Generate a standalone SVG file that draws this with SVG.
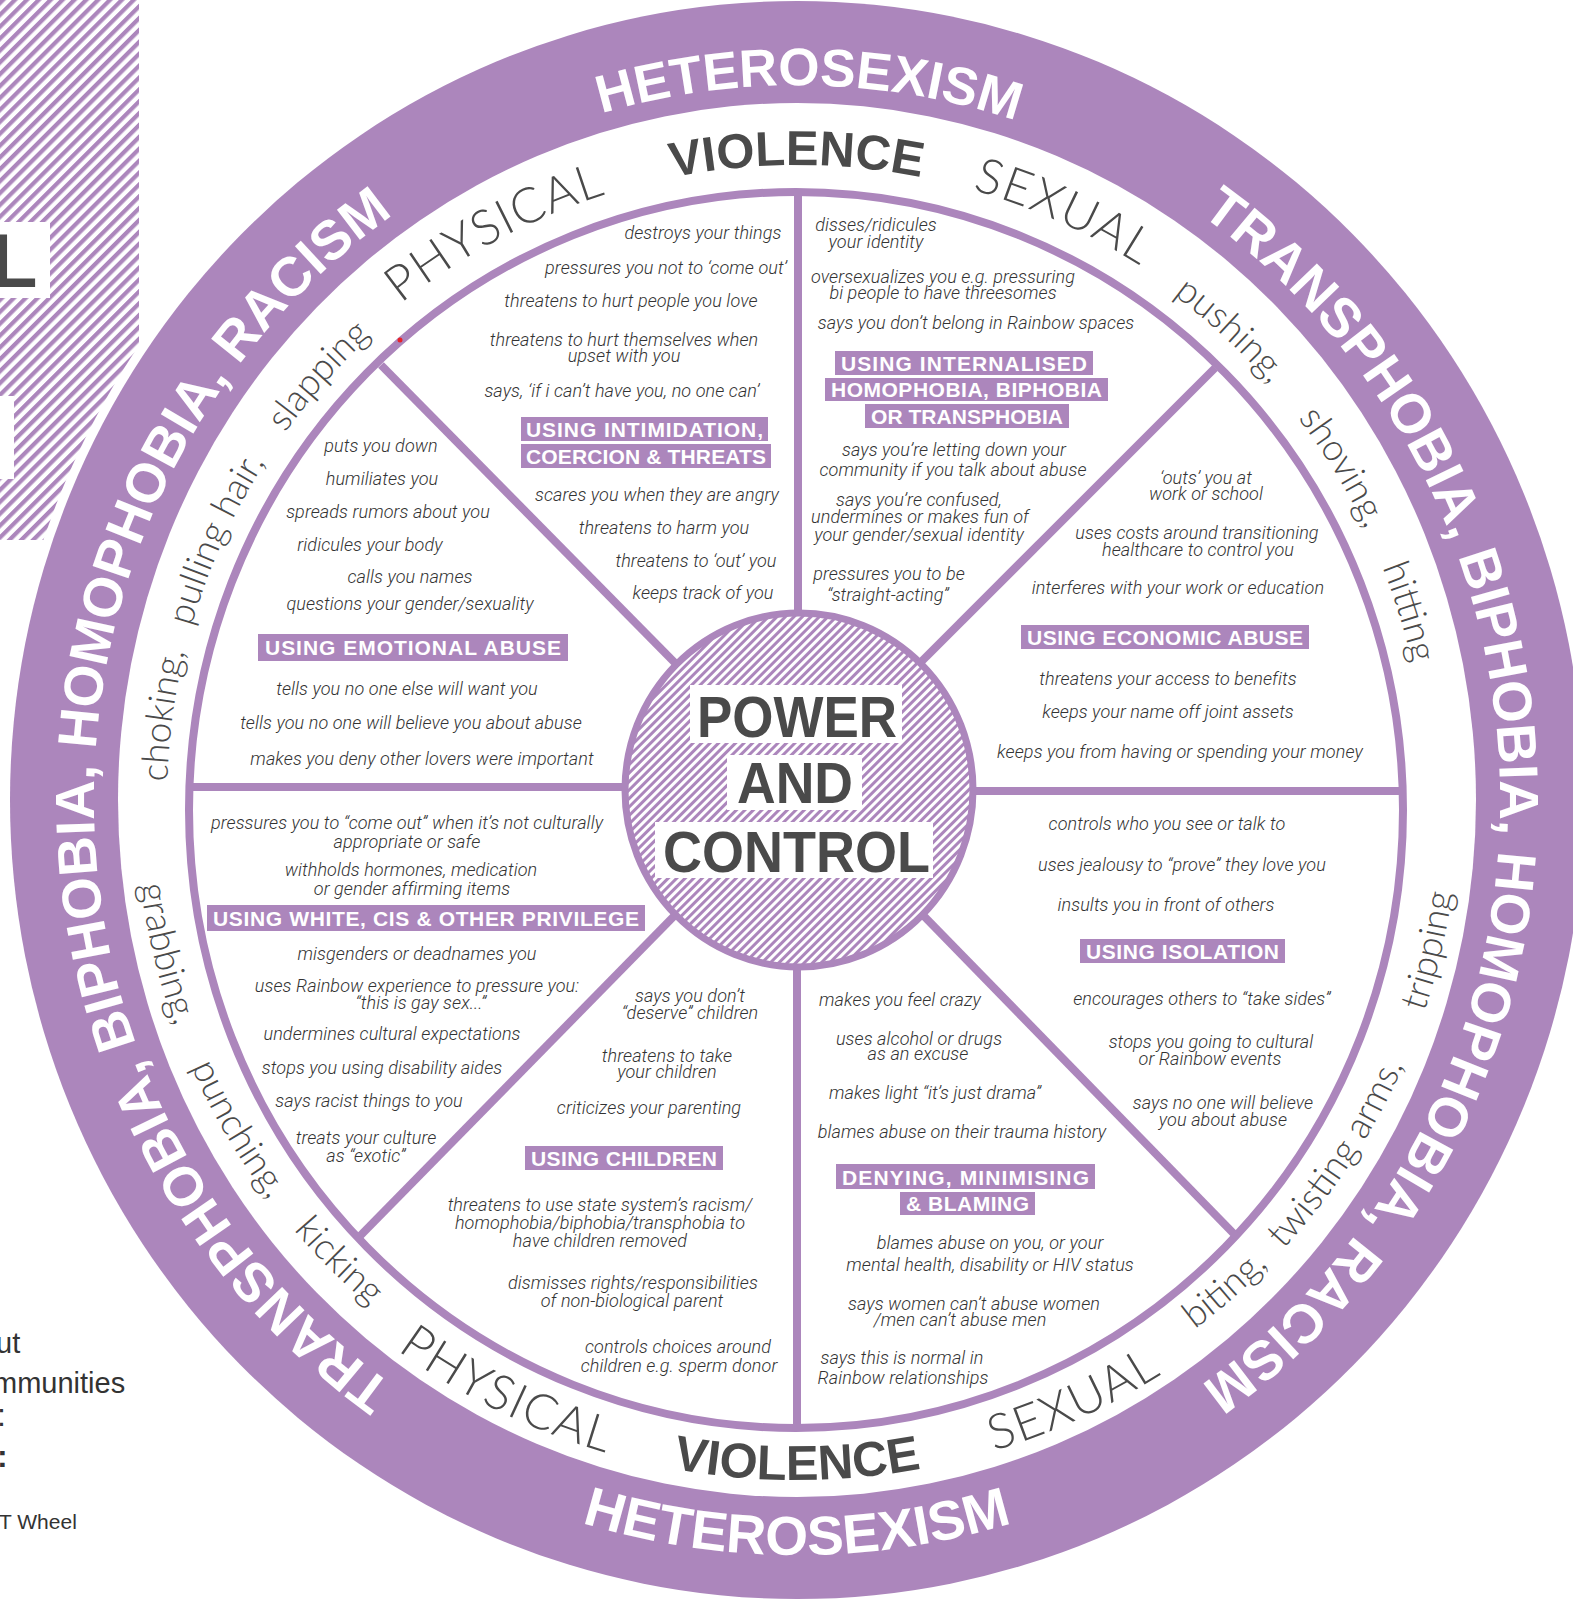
<svg xmlns="http://www.w3.org/2000/svg" width="1573" height="1604" viewBox="0 0 1573 1604">
<defs>
<style>
.t{font-family:Roboto,'Liberation Sans',sans-serif;font-style:italic;font-weight:300;font-size:18px;letter-spacing:0.1px;fill:#333;text-anchor:middle}
.h{font-family:'Liberation Sans',Arial,sans-serif;font-weight:700;font-size:21px;fill:#fff;text-anchor:middle}
.hb{fill:#ac86bc}
.ring{font-family:'Liberation Sans',Arial,sans-serif;font-weight:700;font-size:55px;fill:#fff;text-anchor:middle}
.vb{font-family:'Liberation Sans',Arial,sans-serif;font-weight:700;font-size:49px;fill:#4a4a4a;text-anchor:middle}
.vl{font-family:Lato,'Liberation Sans',sans-serif;font-weight:300;font-size:49px;letter-spacing:1.5px;fill:#4a4a4a;text-anchor:middle}
.act{font-family:Lato,'Liberation Sans',sans-serif;font-weight:300;font-size:37px;fill:#4a4a4a;text-anchor:middle}
.pc{font-family:'Liberation Sans',Arial,sans-serif;font-weight:700;font-size:57px;fill:#4a4a4a;text-anchor:middle}
.sp{stroke:#ac86bc;stroke-width:8;fill:none}
.side{font-family:'Liberation Sans',Arial,sans-serif;font-size:29px;fill:#333}
</style>
<pattern id="hatchHub" width="6" height="6" patternUnits="userSpaceOnUse" patternTransform="rotate(45)"><rect width="6" height="6" fill="#fff"/><rect width="3" height="6" fill="#ac86bc"/></pattern>
<pattern id="hatchSide" width="8.4" height="8.4" patternUnits="userSpaceOnUse" patternTransform="rotate(45)"><rect width="8.4" height="8.4" fill="#fff"/><rect width="4.2" height="8.4" fill="#ac86bc"/></pattern>
<path id="pTop" d="M94,800 A703,715 0 0 1 1500,800"/>
<path id="pRight" d="M797,85 A703,715 0 0 1 797,1515"/>
<path id="pLeft" d="M797,1515 A703,715 0 0 1 797,85"/>
<path id="pBot" d="M52,800 A745,755 0 0 0 1542,800"/>
<path id="cwBig" d="M162,800 A635,635 0 1 1 1432,800 A635,635 0 1 1 162,800"/>
<path id="cwSmall" d="M167,800 A630,630 0 1 1 1427,800 A630,630 0 1 1 167,800"/>
<path id="ccwBig" d="M117,800 A680,680 0 1 0 1477,800 A680,680 0 1 0 117,800"/>
<path id="ccwSmall" d="M135,800 A662,662 0 1 0 1459,800 A662,662 0 1 0 135,800"/>
</defs>
<rect width="1573" height="1604" fill="#fff"/>

<g id="side-panel">
<rect x="0" y="0" width="139" height="540" fill="url(#hatchSide)"/>
<rect x="0" y="222" width="50" height="76" fill="#fff"/>
<text x="-9" y="287" style="font-family:'Liberation Sans',Arial,sans-serif;font-weight:700;font-size:76px;fill:#4a4a4a">L</text>
<rect x="0" y="396" width="14" height="83" fill="#fff"/>
<text class="side" x="-4" y="1353">ut</text>
<text class="side" x="-7" y="1393">mmunities</text>
<text class="side" x="-3" y="1426" style="font-size:32px">:</text>
<text class="side" x="-3" y="1467" style="font-size:32px;font-weight:700">:</text>
<text class="side" x="-1" y="1529" style="font-size:21px">T Wheel</text>
</g>

<g id="outer-ring">
<ellipse cx="797" cy="800" rx="796" ry="808" fill="#fff"/>
<ellipse cx="797" cy="800" rx="787" ry="799" fill="#ac86bc"/>
<ellipse cx="797" cy="800" rx="679" ry="697" fill="#fff"/>
<text class="ring" style="font-size:53px"><textPath href="#pTop" startOffset="50.55%">HETEROSEXISM</textPath></text>
<text class="ring"><textPath href="#pRight" startOffset="50%">TRANSPHOBIA, BIPHOBIA, HOMOPHOBIA, RACISM</textPath></text>
<text class="ring"><textPath href="#pLeft" startOffset="50%">TRANSPHOBIA, BIPHOBIA, HOMOPHOBIA, RACISM</textPath></text>
<text class="ring"><textPath href="#pBot" startOffset="50%">HETEROSEXISM</textPath></text>
</g>

<g id="band">
<text class="vl"><textPath href="#cwBig" startOffset="687">PHYSICAL</textPath></text>
<text class="vb"><textPath href="#cwBig" startOffset="997">VIOLENCE</textPath></text>
<text class="vl"><textPath href="#cwBig" startOffset="1268">SEXUAL</textPath></text>
<text class="vl"><textPath href="#ccwBig" startOffset="758">PHYSICAL</textPath></text>
<text class="vb"><textPath href="#ccwBig" startOffset="1068">VIOLENCE</textPath></text>
<text class="vl"><textPath href="#ccwBig" startOffset="1361">SEXUAL</textPath></text>
<text class="act"><textPath href="#cwSmall" startOffset="84">choking,</textPath></text>
<text class="act"><textPath href="#cwSmall" startOffset="266">pulling hair,</textPath></text>
<text class="act"><textPath href="#cwSmall" startOffset="457">slapping</textPath></text>
<text class="act"><textPath href="#cwSmall" startOffset="1459">pushing,</textPath></text>
<text class="act"><textPath href="#cwSmall" startOffset="1634">shoving,</textPath></text>
<text class="act"><textPath href="#cwSmall" startOffset="1791">hitting</textPath></text>
<text class="act"><textPath href="#ccwSmall" startOffset="158">grabbing,</textPath></text>
<text class="act"><textPath href="#ccwSmall" startOffset="352">punching,</textPath></text>
<text class="act"><textPath href="#ccwSmall" startOffset="522">kicking</textPath></text>
<text class="act"><textPath href="#ccwSmall" startOffset="1515">biting,</textPath></text>
<text class="act"><textPath href="#ccwSmall" startOffset="1696">twisting arms,</textPath></text>
<text class="act"><textPath href="#ccwSmall" startOffset="1925">tripping</textPath></text>
</g>

<g id="wheel">
<ellipse cx="796" cy="810" rx="607" ry="618" fill="#fff" stroke="#ac86bc" stroke-width="8"/>
<circle cx="400" cy="340" r="2.5" fill="#e8232a"/>
</g>

<g id="connectors">
<line class="sp" x1="798" y1="194" x2="798" y2="620"/>
<line class="sp" x1="797" y1="960" x2="797" y2="1428"/>
<line class="sp" x1="189" y1="787" x2="630" y2="787"/>
<line class="sp" x1="968" y1="791" x2="1403" y2="791"/>
<line class="sp" x1="381" y1="365" x2="680" y2="668"/>
<line class="sp" x1="1215" y1="368" x2="918" y2="665"/>
<line class="sp" x1="360" y1="1236" x2="680" y2="910"/>
<line class="sp" x1="1236" y1="1236" x2="918" y2="910"/>
</g>

<g id="hub">
<ellipse cx="799" cy="790" rx="174" ry="177" fill="url(#hatchHub)" stroke="#ac86bc" stroke-width="7"/>
<rect x="690" y="685" width="212" height="58" fill="#fff"/>
<rect x="727" y="755" width="135" height="55" fill="#fff"/>
<rect x="655" y="822" width="278" height="56" fill="#fff"/>
<text class="pc" x="797" y="737" textLength="200" lengthAdjust="spacingAndGlyphs">POWER</text>
<text class="pc" x="795" y="803" textLength="116" lengthAdjust="spacingAndGlyphs">AND</text>
<text class="pc" x="796.5" y="872" textLength="267" lengthAdjust="spacingAndGlyphs">CONTROL</text>
</g>

<g id="seg-intimidation">
<text class="t" x="703" y="239">destroys your things</text>
<text class="t" x="666" y="274">pressures you not to ‘come out’</text>
<text class="t" x="631" y="307">threatens to hurt people you love</text>
<text class="t" x="624" y="346">threatens to hurt themselves when</text>
<text class="t" x="624" y="362">upset with you</text>
<text class="t" x="622" y="397">says, ‘if i can’t have you, no one can’</text>
<rect class="hb" x="521" y="417" width="247" height="24"/>
<rect class="hb" x="521" y="444" width="250" height="24"/>
<text class="h" x="644.5" y="437" textLength="237" lengthAdjust="spacing">USING INTIMIDATION,</text>
<text class="h" x="646" y="464" textLength="240" lengthAdjust="spacing">COERCION &amp; THREATS</text>
<text class="t" x="657" y="501">scares you when they are angry</text>
<text class="t" x="664" y="534">threatens to harm you</text>
<text class="t" x="696" y="567">threatens to ‘out’ you</text>
<text class="t" x="703" y="599">keeps track of you</text>
</g>

<g id="seg-internalised">
<text class="t" x="876" y="231">disses/ridicules</text>
<text class="t" x="876" y="248">your identity</text>
<text class="t" x="943" y="283">oversexualizes you e.g. pressuring</text>
<text class="t" x="943" y="299">bi people to have threesomes</text>
<text class="t" x="976" y="329">says you don’t belong in Rainbow spaces</text>
<rect class="hb" x="835" y="351" width="258" height="24"/>
<rect class="hb" x="825" y="378" width="283" height="23"/>
<rect class="hb" x="865" y="404" width="204" height="24"/>
<text class="h" x="964" y="371" textLength="246" lengthAdjust="spacing">USING INTERNALISED</text>
<text class="h" x="966.5" y="397" textLength="271" lengthAdjust="spacing">HOMOPHOBIA, BIPHOBIA</text>
<text class="h" x="967" y="424" textLength="192" lengthAdjust="spacing">OR TRANSPHOBIA</text>
<text class="t" x="954" y="456">says you’re letting down your</text>
<text class="t" x="953" y="476">community if you talk about abuse</text>
<text class="t" x="919" y="506">says you’re confused,</text>
<text class="t" x="920" y="523">undermines or makes fun of</text>
<text class="t" x="919" y="541">your gender/sexual identity</text>
<text class="t" x="889" y="580">pressures you to be</text>
<text class="t" x="888" y="601">“straight-acting”</text>
</g>

<g id="seg-economic">
<text class="t" x="1206" y="484">‘outs’ you at</text>
<text class="t" x="1206" y="500">work or school</text>
<text class="t" x="1197" y="539">uses costs around transitioning</text>
<text class="t" x="1198" y="556">healthcare to control you</text>
<text class="t" x="1178" y="594">interferes with your work or education</text>
<rect class="hb" x="1021" y="625" width="288" height="24"/>
<text class="h" x="1165" y="645" textLength="276" lengthAdjust="spacing">USING ECONOMIC ABUSE</text>
<text class="t" x="1168" y="685">threatens your access to benefits</text>
<text class="t" x="1168" y="718">keeps your name off joint assets</text>
<text class="t" x="1180" y="758">keeps you from having or spending your money</text>
</g>

<g id="seg-isolation">
<text class="t" x="1167" y="830">controls who you see or talk to</text>
<text class="t" x="1182" y="871">uses jealousy to “prove” they love you</text>
<text class="t" x="1166" y="911">insults you in front of others</text>
<rect class="hb" x="1080" y="939" width="205" height="24"/>
<text class="h" x="1182.5" y="959" textLength="193" lengthAdjust="spacing">USING ISOLATION</text>
<text class="t" x="1202" y="1005">encourages others to “take sides”</text>
<text class="t" x="1211" y="1048">stops you going to cultural</text>
<text class="t" x="1210" y="1065">or Rainbow events</text>
<text class="t" x="1223" y="1109">says no one will believe</text>
<text class="t" x="1223" y="1126">you about abuse</text>
</g>

<g id="seg-denying">
<text class="t" x="900" y="1006">makes you feel crazy</text>
<text class="t" x="919" y="1045">uses alcohol or drugs</text>
<text class="t" x="918" y="1060">as an excuse</text>
<text class="t" x="935" y="1099">makes light “it’s just drama”</text>
<text class="t" x="962" y="1138">blames abuse on their trauma history</text>
<rect class="hb" x="836" y="1164" width="259" height="25"/>
<rect class="hb" x="900" y="1192" width="135" height="23"/>
<text class="h" x="965.5" y="1185" textLength="247" lengthAdjust="spacing">DENYING, MINIMISING</text>
<text class="h" x="967.5" y="1211" textLength="123" lengthAdjust="spacing">&amp; BLAMING</text>
<text class="t" x="990" y="1249">blames abuse on you, or your</text>
<text class="t" x="990" y="1271">mental health, disability or HIV status</text>
<text class="t" x="974" y="1310">says women can’t abuse women</text>
<text class="t" x="960" y="1326">/men can’t abuse men</text>
<text class="t" x="902" y="1364">says this is normal in</text>
<text class="t" x="903" y="1384">Rainbow relationships</text>
</g>

<g id="seg-children">
<text class="t" x="690" y="1002">says you don’t</text>
<text class="t" x="690" y="1019">“deserve” children</text>
<text class="t" x="667" y="1062">threatens to take</text>
<text class="t" x="667" y="1078">your children</text>
<text class="t" x="649" y="1114">criticizes your parenting</text>
<rect class="hb" x="525" y="1146" width="198" height="24"/>
<text class="h" x="624" y="1166" textLength="186" lengthAdjust="spacing">USING CHILDREN</text>
<text class="t" x="600" y="1211">threatens to use state system’s racism/</text>
<text class="t" x="600" y="1229">homophobia/biphobia/transphobia to</text>
<text class="t" x="600" y="1247">have children removed</text>
<text class="t" x="633" y="1289">dismisses rights/responsibilities</text>
<text class="t" x="632" y="1307">of non-biological parent</text>
<text class="t" x="678" y="1353">controls choices around</text>
<text class="t" x="679" y="1372">children e.g. sperm donor</text>
</g>

<g id="seg-privilege">
<text class="t" x="407" y="829">pressures you to “come out” when it’s not culturally</text>
<text class="t" x="407" y="848">appropriate or safe</text>
<text class="t" x="411" y="876">withholds hormones, medication</text>
<text class="t" x="412" y="895">or gender affirming items</text>
<rect class="hb" x="207" y="905" width="438" height="26"/>
<text class="h" x="426" y="926" textLength="426" lengthAdjust="spacing">USING WHITE, CIS &amp; OTHER PRIVILEGE</text>
<text class="t" x="417" y="960">misgenders or deadnames you</text>
<text class="t" x="417" y="992">uses Rainbow experience to pressure you:</text>
<text class="t" x="421" y="1009">“this is gay sex...”</text>
<text class="t" x="392" y="1040">undermines cultural expectations</text>
<text class="t" x="382" y="1074">stops you using disability aides</text>
<text class="t" x="369" y="1107">says racist things to you</text>
<text class="t" x="366" y="1144">treats your culture</text>
<text class="t" x="366" y="1162">as “exotic”</text>
</g>

<g id="seg-emotional">
<text class="t" x="381" y="452">puts you down</text>
<text class="t" x="382" y="485">humiliates you</text>
<text class="t" x="388" y="518">spreads rumors about you</text>
<text class="t" x="370" y="551">ridicules your body</text>
<text class="t" x="410" y="583">calls you names</text>
<text class="t" x="410" y="610">questions your gender/sexuality</text>
<rect class="hb" x="258" y="634" width="310" height="27"/>
<text class="h" x="413" y="655" textLength="296" lengthAdjust="spacing">USING EMOTIONAL ABUSE</text>
<text class="t" x="407" y="695">tells you no one else will want you</text>
<text class="t" x="411" y="729">tells you no one will believe you about abuse</text>
<text class="t" x="422" y="765">makes you deny other lovers were important</text>
</g>
</svg>
